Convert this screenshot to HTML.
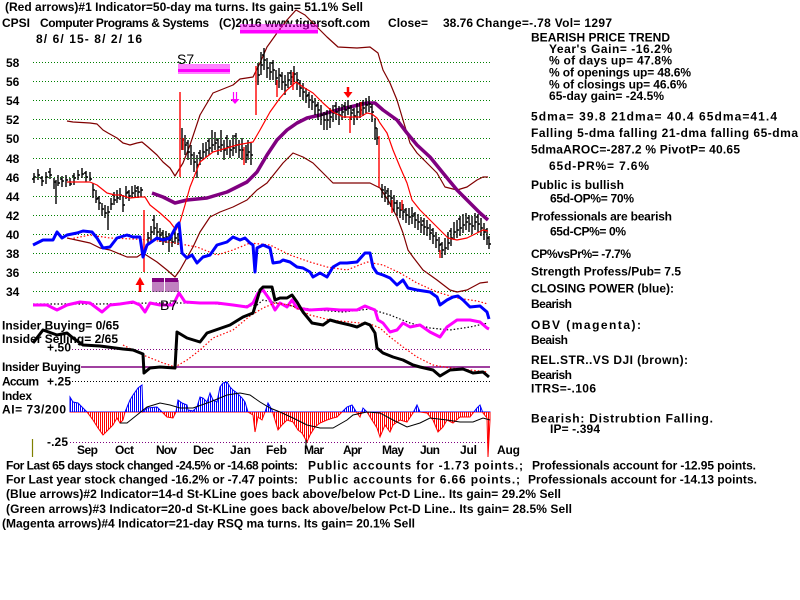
<!DOCTYPE html>
<html><head><meta charset="utf-8"><style>
html,body{margin:0;padding:0;background:#fff;}
svg{display:block;}
text{font-family:"Liberation Sans",Arial,sans-serif;font-weight:bold;font-size:12px;fill:#000;}
</style></head><body>
<svg width="800" height="600" viewBox="0 0 800 600" xmlns="http://www.w3.org/2000/svg">
<defs>
<pattern id="hist" patternUnits="userSpaceOnUse" x="0" y="0" width="2" height="600">
<rect x="0" y="0" width="1" height="412" fill="#0000ff"/>
<rect x="0" y="412" width="1" height="188" fill="#ff0000"/>
</pattern>
<linearGradient id="hg" gradientUnits="userSpaceOnUse" x1="0" y1="0" x2="0" y2="600">
<stop offset="0.6867" stop-color="#0000ff"/><stop offset="0.6867" stop-color="#ff0000"/>
</linearGradient>
</defs>
<rect width="800" height="600" fill="#fff"/>

<!-- header text -->
<text x="5" y="11" textLength="358" lengthAdjust="spacing">(Red arrows)#1 Indicator=50-day ma turns. Its gain= 51.1% Sell</text>
<text x="2" y="27">CPSI</text>
<text x="40" y="27" textLength="169" lengthAdjust="spacing">Computer Programs &amp; Systems</text>
<text x="219" y="27" textLength="151" lengthAdjust="spacing">(C)2016 www.tigersoft.com</text>
<text x="388" y="27" textLength="40" lengthAdjust="spacing">Close=</text>
<text x="443" y="27">38.76</text>
<text x="476" y="27" textLength="136" lengthAdjust="spacing">Change=-.78 Vol= 1297</text>
<text x="36" y="43" textLength="106" lengthAdjust="spacing">8/ 6/ 15- 8/ 2/ 16</text>

<!-- grid -->
<g stroke="#008000" stroke-width="1" stroke-dasharray="1 2">
<line x1="33" y1="62.5" x2="490" y2="62.5"/><line x1="33" y1="81.5" x2="490" y2="81.5"/>
<line x1="33" y1="100.5" x2="490" y2="100.5"/><line x1="33" y1="119.5" x2="490" y2="119.5"/>
<line x1="33" y1="138.5" x2="490" y2="138.5"/><line x1="33" y1="158.5" x2="490" y2="158.5"/>
<line x1="33" y1="177.5" x2="490" y2="177.5"/><line x1="33" y1="196.5" x2="490" y2="196.5"/>
<line x1="33" y1="215.5" x2="490" y2="215.5"/><line x1="33" y1="234.5" x2="490" y2="234.5"/>
<line x1="33" y1="253.5" x2="490" y2="253.5"/><line x1="33" y1="272.5" x2="490" y2="272.5"/>
<line x1="33" y1="291.5" x2="490" y2="291.5"/>
</g>
<g>
<text x="6" y="67">58</text>
<text x="6" y="86">56</text>
<text x="6" y="105">54</text>
<text x="6" y="124">52</text>
<text x="6" y="143">50</text>
<text x="6" y="163">48</text>
<text x="6" y="182">46</text>
<text x="6" y="201">44</text>
<text x="6" y="220">42</text>
<text x="6" y="239">40</text>
<text x="6" y="258">38</text>
<text x="6" y="277">36</text>
<text x="6" y="296">34</text>
</g>

<!-- bands -->
<g fill="none" stroke="#800000" stroke-width="1.2" stroke-linejoin="round">
<polyline points="67,121 73,122 90,123 97,124 103,130 108,133 117,138 123,143 130,145 137,143 142,142 148,147 157,155 163,162 170,168 175,176 183,163 190,145 200,115 213,93 233,85 240,79 253,77 260,63 267,47 277,33 287,20 296,10 305,15 317,27 327,37 338,47 357,48 370,47 378,53 383,70 390,83 397,100 403,120 410,143 417,153 427,163 437,173 445,187 457,190 467,187 477,180 483,177 488,177"/>
<polyline points="67,238 90,243 100,248 110,250 127,257 137,257 143,253 157,262 167,270 175,277 180,270 193,247 200,232 210,217 220,212 233,207 247,200 257,190 267,183 283,163 293,153 303,157 313,163 323,173 333,183 343,183 370,183 380,188 388,200 397,217 403,233 408,250 413,257 423,270 437,280 450,290 457,292 467,290 480,283 488,282"/>
</g>

<!-- purple 65 dma -->
<polyline fill="none" stroke="#800080" stroke-width="3.5" stroke-linejoin="round" points="152,193 163,197 175,203 187,200 207,198 227,192 247,182 257,172 267,155 277,140 287,130 297,123 307,118 320,115 337,110 350,107 367,103 375,103 383,110 397,120 407,133 417,145 430,157 443,173 457,190 470,203 480,213 488,220"/>

<!-- price bars -->
<path fill="none" stroke="#000" stroke-width="1.4" d="M34 173V183M32 179h2M34 177h2M38 169V180M38 175h2M42 176V186M40 178h2M42 181h2M46 172V184M46 177h2M50 168V179M48 172h2M50 175h2M54 178V189M54 182h2M56 180V204M58 175V186M58 183h2M62 176V187M60 179h2M62 181h2M66 175V187M66 180h2M70 178V186M70 184h2M74 173V185M72 176h2M74 178h2M78 170V180M78 175h2M82 168V178M82 174h2M86 171V182M84 173h2M86 177h2M90 172V181M90 179h2M93 183V198M93 190h2M96 190V203M96 199h2M99 196V210M97 198h2M99 203h2M102 203V216M102 209h2M105 205V218M105 213h2M108 206V230M108 212h2M111 198V210M111 204h2M114 192V205M112 195h2M114 200h2M117 190V203M117 198h2M120 188V200M120 195h2M123 195V212M123 205h2M126 186V199M126 193h2M129 190V201M127 192h2M129 196h2M132 186V198M132 193h2M135 185V197M135 191h2M138 186V198M136 188h2M138 192h2M141 187V197M141 190h2
M148 232V245M148 238h2M151 226V240M151 232h2M154 215V235M152 220h2M154 228h2M157 223V238M157 232h2M160 228V242M160 235h2M163 230V245M161 233h2M163 238h2M166 231V243M166 237h2M169 233V252M169 240h2M172 236V247M172 242h2M175 230V244M173 233h2M175 238h2M178 233V245M178 240h2
M182 128V150M182 140h2M185 135V155M185 145h2M188 140V160M186 143h2M188 152h2M191 145V165M191 155h2M194 152V172M194 162h2M197 155V178M197 165h2M200 150V165M198 153h2M200 158h2M203 143V160M203 152h2M206 142V157M206 150h2M209 138V155M207 141h2M209 148h2M212 130V152M212 145h2M215 132V150M215 143h2M218 138V155M216 140h2M218 147h2M221 130V152M221 145h2M224 140V160M224 150h2M227 135V155M225 138h2M227 147h2M230 140V158M230 150h2M233 135V156M233 148h2M236 133V153M234 136h2M236 145h2M239 140V158M239 150h2M242 138V160M242 150h2M246 145V163M246 155h2M248 140V160M248 152h2M251 143V165M251 155h2
M258 63V85M258 75h2M261 52V75M261 65h2M264 48V70M262 55h2M264 60h2M267 58V78M267 68h2M270 62V80M270 72h2M273 60V80M271 63h2M273 70h2M276 70V85M276 78h2M279 68V88M279 75h2M282 72V90M280 76h2M282 82h2M285 75V95M285 85h2M288 72V88M288 80h2M291 70V85M289 73h2M291 77h2M294 66V82M294 74h2M297 72V90M297 80h2M300 80V97M298 83h2M300 88h2M303 83V100M303 92h2M306 88V103M306 96h2M309 92V108M307 95h2M309 100h2M312 95V110M312 102h2M315 98V115M315 106h2M318 102V120M316 105h2M318 110h2M321 105V125M321 115h2M324 112V130M324 120h2M327 110V130M325 114h2M327 120h2M330 108V128M330 117h2M333 105V122M333 113h2M336 102V120M334 106h2M336 112h2M339 106V125M339 115h2M342 104V120M342 112h2M345 102V118M343 106h2M345 110h2M348 100V115M348 108h2M351 105V120M351 113h2M354 108V125M352 110h2M354 116h2M357 103V120M357 112h2M360 102V118M360 110h2M363 100V116M361 103h2M363 108h2M366 98V113M366 105h2M369 96V112M369 104h2M372 104V122M370 107h2M372 112h2M375 118V140M375 128h2M377 128V145M377 138h2
M382 184V198M382 190h2M385 186V202M385 193h2M388 188V205M386 191h2M388 196h2M391 190V207M391 198h2M394 195V212M394 203h2M397 200V216M395 203h2M397 208h2M400 202V218M400 210h2M403 204V220M403 212h2M406 208V223M404 210h2M406 215h2M409 208V225M409 217h2M412 207V224M412 216h2M415 212V228M413 214h2M415 220h2M418 214V230M418 222h2M421 217V233M421 225h2M424 218V235M422 221h2M424 227h2M427 220V236M427 228h2M430 224V240M430 233h2M433 228V244M431 230h2M433 236h2M436 232V248M436 240h2M439 237V252M439 245h2M442 242V258M440 244h2M442 250h2M445 238V255M445 248h2M448 232V250M448 243h2M451 228V246M449 231h2M451 238h2M454 222V240M454 232h2M457 220V238M457 230h2M460 216V236M458 219h2M460 228h2M463 214V233M463 225h2M466 213V230M466 222h2M469 215V232M467 218h2M469 224h2M472 216V234M472 226h2M475 213V230M475 222h2M478 214V232M476 217h2M478 224h2M481 218V236M481 228h2M484 223V240M484 232h2M487 228V245M485 230h2M487 238h2M489 236V249M489 244h2"/>
<path fill="none" stroke="#ff0000" stroke-width="1.4" d="M144 210V272M180 92V177M256 66V115M379 136V187M244 147V165M277 80V97M293 72V90M350 117V133M392 200V213M402 200V210M440 250V258M361 102V115M183 138V150"/>

<!-- red 21dma -->
<polyline fill="none" stroke="#ff0000" stroke-width="1.2" stroke-linejoin="round" points="67,182 90,182 97,185 107,193 115,195 120,195 130,198 140,197 145,197 150,205 160,213 170,222 176,230 180,222 185,205 190,187 200,162 213,152 227,148 237,145 253,142 260,130 270,112 280,98 287,90 296,82 303,87 313,93 323,103 333,112 343,117 360,117 367,113 372,114 377,118 380,123 387,133 393,150 400,167 407,183 412,200 420,210 430,220 440,230 448,238 457,240 467,238 477,233 483,230 488,231"/>

<!-- closing power -->
<polyline fill="none" stroke="#ff0000" stroke-width="1.2" stroke-dasharray="1.5 2" points="70,239 90,235 110,238 133,239 150,240 175,243 197,247 217,255 233,250 250,243 270,245 290,255 310,262 327,267 347,270 367,262 383,265 400,273 417,283 437,292 457,298 477,301 488,304"/>
<polyline fill="none" stroke="#0000ff" stroke-width="3" stroke-linejoin="round" points="33,245 43,240 53,240 57,232 62,238 67,235 77,233 83,231 92,232 97,238 103,248 110,247 117,238 127,235 133,237 140,237 143,257 147,245 157,238 163,240 170,238 177,225 179,223 182,253 187,258 192,255 197,263 203,257 210,255 217,245 227,242 233,237 240,240 245,238 250,243 253,245 255,272 257,248 263,245 270,248 273,263 280,262 283,260 290,262 297,267 303,268 310,272 313,277 320,273 327,277 333,267 340,263 347,263 357,262 365,253 370,253 373,267 377,273 383,275 390,278 397,285 403,280 408,288 417,290 430,292 437,297 440,305 447,300 453,297 458,296 463,300 470,307 480,306 487,312 489,319"/>

<!-- OBV -->
<polyline fill="none" stroke="#000" stroke-width="1.2" stroke-dasharray="1.5 2" points="33,304 100,304 150,303 200,303 250,306 257,305 263,300 277,303 297,307 317,310 343,312 370,309 390,315 410,323 430,328 450,330 470,327 488,323"/>
<polyline fill="none" stroke="#ff00ff" stroke-width="3" stroke-linejoin="round" points="33,305 47,305 57,310 67,305 80,302 90,303 102,312 110,305 120,304 133,302 140,305 145,312 150,303 160,305 173,305 179,293 185,302 200,303 217,303 233,305 247,307 253,303 258,293 263,290 270,300 275,310 280,303 287,307 292,300 297,308 310,310 327,309 340,310 357,310 365,306 375,310 378,320 383,323 390,332 397,330 403,323 410,327 420,325 430,332 440,337 447,327 457,320 470,320 480,322 487,328 489,329"/>

<!-- lower panel lines -->
<line x1="72" y1="349.5" x2="490" y2="349.5" stroke="#800080" stroke-dasharray="1 2"/>
<line x1="72" y1="381.5" x2="490" y2="381.5" stroke="#000" stroke-dasharray="1 2"/>
<line x1="70" y1="442.5" x2="490" y2="442.5" stroke="#800080" stroke-dasharray="1 2"/>
<line x1="81" y1="367" x2="490" y2="367" stroke="#800080" stroke-width="1.6"/>
<line x1="32.5" y1="439" x2="32.5" y2="457" stroke="#808000" stroke-width="1.2"/>

<!-- RS line -->
<polyline fill="none" stroke="#ff0000" stroke-width="1.2" stroke-dasharray="1.5 2" points="123,345 143,355 163,363 175,367 187,360 200,350 213,338 233,330 250,316 263,308 275,303 290,305 310,315 330,320 350,322 370,324 380,328 390,337 403,347 417,357 433,365 450,368 470,370 488,372"/>
<polyline fill="none" stroke="#000" stroke-width="3" stroke-linejoin="round" points="33,343 43,330 57,335 67,333 73,338 83,345 100,346 123,349 133,350 143,354 144,373 150,368 160,367 175,368 177,332 187,338 200,342 207,333 230,325 243,317 253,313 257,300 260,290 263,287 272,287 275,300 280,298 287,298 292,295 297,302 303,312 312,323 323,325 330,320 337,322 350,325 357,327 365,323 370,325 375,333 377,348 383,353 393,357 403,360 413,365 420,367 433,370 440,376 450,370 463,369 473,373 483,372 489,377"/>

<!-- AI histogram -->
<polygon fill="url(#hist)" stroke="url(#hg)" stroke-width="1" points="70,412 70,397 73,402 78,403 83,408 87,412 93,420 98,428 103,435 110,428 113,425 117,418 120,423 123,420 125,412 130,400 133,395 138,388 142,385 143,412 147,408 157,407 160,410 163,413 167,417 173,418 176,412 178,400 182,403 187,405 188,410 193,411 197,407 200,397 203,398 207,402 210,393 213,400 217,402 220,387 223,383 227,382 230,387 233,390 237,393 242,398 245,402 248,412 253,415 255,432 258,417 262,420 265,412 268,403 272,410 275,420 278,430 282,425 287,420 293,422 298,430 302,433 307,442 310,435 315,427 320,423 327,420 333,418 337,417 342,412 347,407 352,405 357,413 360,417 363,408 367,412 372,420 377,428 380,437 385,425 390,432 393,425 400,420 407,422 413,413 417,405 420,412 427,413 433,420 438,432 443,427 447,420 453,423 460,417 470,417 477,408 480,405 483,413 487,418 488,457 490,420 490,412"/>
<polyline fill="none" stroke="#000" stroke-width="1" points="120,423 127,423 137,415 147,407 160,403 170,405 180,408 193,408 210,402 227,395 240,393 250,395 260,402 270,408 280,412 293,418 307,425 320,428 333,428 347,420 353,415 367,412 380,413 393,420 407,427 420,423 430,418 447,420 460,422 473,422 483,418 490,420"/>
<line x1="306" y1="440" x2="306" y2="449" stroke="#000" stroke-width="1.2"/>

<!-- arrows / signals -->
<path d="M140 292V284" stroke="#ff0000" stroke-width="2.5"/>
<polygon points="135.5,285 144.5,285 140,277" fill="#ff0000"/>
<g fill="#800080">
<rect x="152" y="278" width="12" height="4"/><rect x="165" y="278" width="13" height="4"/>
</g>
<path stroke="#800080" stroke-width="1" d="M153 280V292M155 280V292M157 280V292M159 280V292M161 280V292M163 280V292M166 280V292M168 280V292M170 280V292M172 280V292M174 280V292M176 280V292M178 280V292"/>
<g fill="#ff00ff">
<rect x="240" y="30" width="78" height="3"/>
<rect x="178" y="69" width="52" height="3"/>
</g>
<path stroke="#ff00ff" stroke-width="1" d="M241 24V34M243 24V34M245 24V34M247 24V34M249 24V34M251 24V34M253 24V34M255 24V34M257 24V34M259 24V34M261 24V34M263 24V34M265 24V34M267 24V34M269 24V34M271 24V34M273 24V34M275 24V34M277 24V34M279 24V34M281 24V34M283 24V34M285 24V34M287 24V34M289 24V34M291 24V34M293 24V34M295 24V34M297 24V34M299 24V34M301 24V34M303 24V34M305 24V34M307 24V34M309 24V34M311 24V34M313 24V34M315 24V34M317 24V34
M179 64V74M181 64V74M183 64V74M185 64V74M187 64V74M189 64V74M191 64V74M193 64V74M195 64V74M197 64V74M199 64V74M201 64V74M203 64V74M205 64V74M207 64V74M209 64V74M211 64V74M213 64V74M215 64V74M217 64V74M219 64V74M221 64V74M223 64V74M225 64V74M227 64V74M229 64V74"/>
<path d="M233.5 92V99M236.5 92V99" stroke="#ff00ff" stroke-width="1.2"/>
<polygon points="230.5,99 239.5,99 235,104" fill="#ff00ff"/>
<path d="M348 87V93" stroke="#ff0000" stroke-width="2.5"/>
<polygon points="343.5,92 352.5,92 348,98" fill="#ff0000"/>
<text x="177" y="64" style="font-weight:normal;font-size:14px">S7</text>
<text x="160" y="310" style="font-weight:normal;font-size:14px">B7</text>

<!-- lower-left labels -->
<text x="2" y="329.5" textLength="117" lengthAdjust="spacing">Insider Buying= 0/65</text>
<text x="2" y="343" textLength="116" lengthAdjust="spacing">Insider Selling= 2/65</text>
<text x="47" y="351.5" textLength="24" lengthAdjust="spacing">+.50</text>
<text x="2" y="371" textLength="79" lengthAdjust="spacing">Insider Buying</text>
<text x="2" y="385.7" textLength="37" lengthAdjust="spacing">Accum</text>
<text x="47" y="385.7" textLength="24" lengthAdjust="spacing">+.25</text>
<text x="2" y="400" textLength="30" lengthAdjust="spacing">Index</text>
<text x="2" y="413.3" textLength="64" lengthAdjust="spacing">AI= 73/200</text>
<text x="47" y="446" textLength="21" lengthAdjust="spacing">-.25</text>

<!-- months -->
<g>
<text x="77" y="454" textLength="21" lengthAdjust="spacing">Sep</text>
<text x="115" y="454" textLength="19" lengthAdjust="spacing">Oct</text>
<text x="156" y="454" textLength="21" lengthAdjust="spacing">Nov</text>
<text x="193" y="454" textLength="21" lengthAdjust="spacing">Dec</text>
<text x="230" y="454" textLength="21" lengthAdjust="spacing">Jan</text>
<text x="266" y="454" textLength="21" lengthAdjust="spacing">Feb</text>
<text x="304" y="454" textLength="20" lengthAdjust="spacing">Mar</text>
<text x="343" y="454" textLength="19" lengthAdjust="spacing">Apr</text>
<text x="382" y="454" textLength="22" lengthAdjust="spacing">May</text>
<text x="420" y="454" textLength="20" lengthAdjust="spacing">Jun</text>
<text x="460" y="454" textLength="17" lengthAdjust="spacing">Jul</text>
<text x="497" y="454" textLength="23" lengthAdjust="spacing">Aug</text>
</g>

<!-- bottom text -->
<text x="6" y="469.5" textLength="292" lengthAdjust="spacing">For Last 65 days stock changed -24.5% or -14.68 points:</text>
<text x="308" y="469.5" textLength="215" lengthAdjust="spacing">Public accounts for -1.73 points.;</text>
<text x="532" y="469.5" textLength="224" lengthAdjust="spacing">Professionals account for -12.95 points.</text>
<text x="6" y="483.5" textLength="292" lengthAdjust="spacing">For Last year stock changed -16.2% or -7.47 points:</text>
<text x="308" y="483.5" textLength="212" lengthAdjust="spacing">Public accounts for  6.66 points.;</text>
<text x="528" y="483.5" textLength="229" lengthAdjust="spacing">Professionals account for -14.13 points.</text>
<text x="6" y="498" textLength="555" lengthAdjust="spacing">(Blue arrows)#2 Indicator=14-d St-KLine goes back above/below Pct-D Line.. Its gain= 29.2% Sell</text>
<text x="6" y="513" textLength="566" lengthAdjust="spacing">(Green arrows)#3 Indicator=20-d St-KLine goes back above/below Pct-D Line.. Its gain= 28.5% Sell</text>
<text x="2" y="527.5" textLength="413" lengthAdjust="spacing">(Magenta arrows)#4 Indicator=21-day RSQ ma turns. Its gain= 20.1% Sell</text>

<!-- right panel -->
<text x="531" y="41.5" textLength="139" lengthAdjust="spacing">BEARISH PRICE TREND</text>
<text x="549" y="53" textLength="123" lengthAdjust="spacing">Year's Gain= -16.2%</text>
<text x="549" y="64.5" textLength="123" lengthAdjust="spacing">% of days up= 47.8%</text>
<text x="549" y="76.5" textLength="142" lengthAdjust="spacing">% of openings up= 48.6%</text>
<text x="549" y="88.5" textLength="138" lengthAdjust="spacing">% of closings up= 46.6%</text>
<text x="549" y="100" textLength="115" lengthAdjust="spacing">65-day gain= -24.5%</text>
<text x="531" y="120.5" textLength="246" lengthAdjust="spacing">5dma= 39.8 21dma= 40.4 65dma=41.4</text>
<text x="531" y="137" textLength="267" lengthAdjust="spacing">Falling 5-dma falling 21-dma falling 65-dma</text>
<text x="531" y="153.5" textLength="209" lengthAdjust="spacing">5dmaAROC=-287.2 %  PivotP= 40.65</text>
<text x="549" y="170" textLength="100" lengthAdjust="spacing">65d-PR%= 7.6%</text>
<text x="531" y="189" textLength="93" lengthAdjust="spacing">Public is bullish</text>
<text x="550" y="202.7" textLength="84" lengthAdjust="spacing">65d-OP%= 70%</text>
<text x="531" y="220.7" textLength="141" lengthAdjust="spacing">Professionals are bearish</text>
<text x="550" y="235.7" textLength="76" lengthAdjust="spacing">65d-CP%= 0%</text>
<text x="531" y="258" textLength="100" lengthAdjust="spacing">CP%vsPr%= -7.7%</text>
<text x="531" y="275.7" textLength="150" lengthAdjust="spacing">Strength Profess/Pub= 7.5</text>
<text x="531" y="292.3" textLength="143" lengthAdjust="spacing">CLOSING POWER (blue):</text>
<text x="531" y="308" textLength="41" lengthAdjust="spacing">Bearish</text>
<text x="531" y="329" textLength="110" lengthAdjust="spacing">OBV (magenta):</text>
<text x="531" y="344" textLength="37" lengthAdjust="spacing">Beaish</text>
<text x="531" y="364" textLength="157" lengthAdjust="spacing">REL.STR..VS DJI (brown):</text>
<text x="531" y="379" textLength="41" lengthAdjust="spacing">Bearish</text>
<text x="531" y="392.3" textLength="65" lengthAdjust="spacing">ITRS=-.106</text>
<text x="531" y="422.3" textLength="182" lengthAdjust="spacing">Bearish: Distrubtion Falling.</text>
<text x="550" y="433" textLength="50" lengthAdjust="spacing">IP= -.394</text>
</svg>
</body></html>
